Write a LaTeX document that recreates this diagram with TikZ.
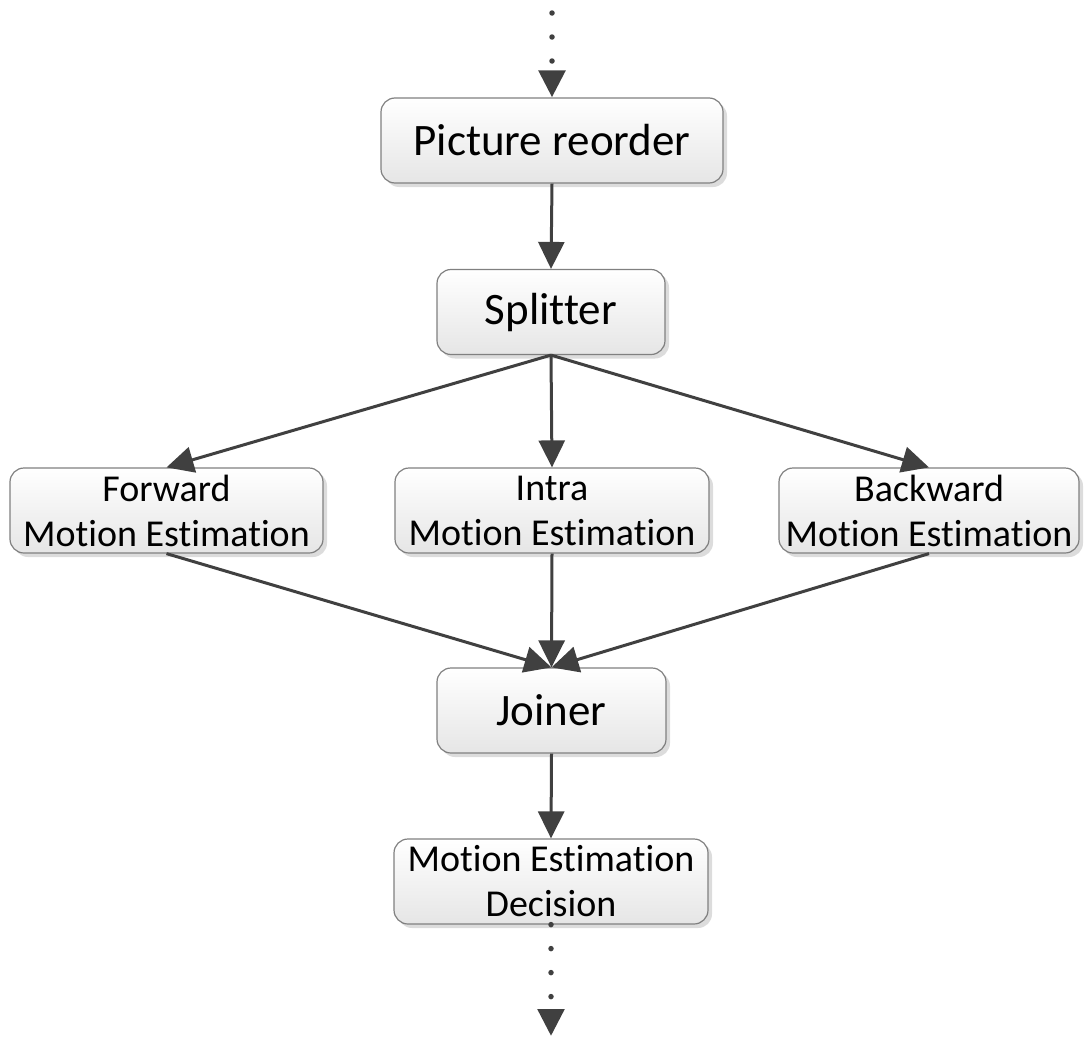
\documentclass[tikz,border=0pt]{standalone}
\usepackage{fontspec}
\setmainfont{Carlito}[Ligatures={NoCommon}]
\usetikzlibrary{arrows.meta,shadows}
\begin{document}
\begin{tikzpicture}[x=1pt,y=-1pt,
 box/.style={draw=black!50, line width=1.2pt, rounded corners=14pt, top color=white, bottom color=black!10,
   drop shadow={shadow xshift=4pt, shadow yshift=-4pt, fill=black!30, opacity=0.45},
   minimum height=85pt, inner sep=0pt, align=center, text=black},
 big/.style={font=\fontsize{45}{54}\selectfont},
 small/.style={font=\fontsize{38}{45}\selectfont},
 tip/.style={-{Triangle[length=27pt,width=26pt]}},
 arr/.style={draw=black!75, line width=3pt, tip},
 dotarr/.style={draw=black!75, line width=5.5pt, line cap=round, dash pattern=on 0pt off 24pt, tip}]
\useasboundingbox (0,0) rectangle (1084,1036);
\node[box,big,minimum width=342pt] (reorder) at (552,140.5) {Picture reorder};
\node[box,big,minimum width=228pt] (split) at (551,312) {Splitter};
\node[box,small,minimum width=313pt] (fwd) at (166.5,510.5) {Forward\\Motion Estimation};
\node[box,small,minimum width=314pt] (intra) at (552,510.5) {Intra\\Motion Estimation};
\node[box,small,minimum width=300pt] (bwd) at (929,510.5) {Backward\\Motion Estimation};
\node[box,big,minimum width=229pt] (join) at (551.5,710.5) {Joiner};
\node[box,small,minimum width=314pt] (dec) at (551,881.5) {Motion Estimation\\Decision};
\coordinate (topstart) at (552,13);
\coordinate (botend) at (551,1036);
\draw[dotarr] (topstart) -- (reorder.north);
\draw[arr] (reorder.south) -- (split.north);
\draw[arr] (split.south) -- (fwd.north);
\draw[arr] (split.south) -- (intra.north);
\draw[arr] (split.south) -- (bwd.north);
\draw[arr] (fwd.south) -- (join.north);
\draw[arr] (intra.south) -- (join.north);
\draw[arr] (bwd.south) -- (join.north);
\draw[arr] (join.south) -- (dec.north);
\draw[dotarr] (dec.south) -- (botend);
\end{tikzpicture}
\end{document}
